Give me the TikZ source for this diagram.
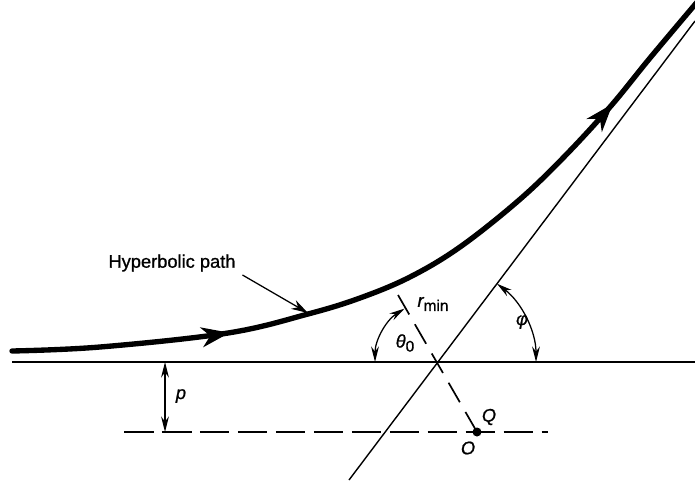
\documentclass[tikz,border=0pt]{standalone}
\usepackage{fontspec}
\setsansfont{Liberation Sans}[FakeBold=0.9]
\usetikzlibrary{arrows.meta,decorations.markings}

\newcommand{\lowtext}[1]{{\fontsize{11}{13}\selectfont\upshape\raisebox{-0.5ex}{#1}}}

\begin{document}
\begin{tikzpicture}[x=0.025cm,y=0.025cm,
  every node/.style={font=\sffamily\fontsize{13}{15}\selectfont},
  hyppath/.style={line width=3.8pt,line cap=round,postaction={decorate},
    decoration={markings,
      mark=at position 0.27 with {\arrow{Stealth[length=20pt,width=14pt,inset=6pt]}},
      mark=at position 0.835 with {\arrow{Stealth[length=20pt,width=14pt,inset=6pt]}}}},
  thinline/.style={line width=1pt},
  dashline/.style={line width=1.2pt,dash pattern=on 21pt off 6pt},
  apseline/.style={line width=1.2pt,dash pattern=on 16pt off 8pt},
  anglearrow/.style={{Stealth[length=11pt,width=5.5pt]}-{Stealth[length=11pt,width=5.5pt]},line width=0.9pt},
  labelarrow/.style={-{Stealth[length=12pt,width=7pt]},line width=0.9pt},
]
\useasboundingbox (0,0) rectangle (695,483);

% ---------- Reference points ----------
\coordinate (C) at (438,121);
\coordinate (O) at (477,51);
\coordinate (axL) at (12,121);
\coordinate (axR) at (695,121);
\coordinate (lowL) at (124,51);
\coordinate (lowR) at (548,51);
\coordinate (asyL) at (349,3);
\coordinate (asyR) at (695,462);
\coordinate (rtop) at (398,188);
\coordinate (pTop) at (165,121);
\coordinate (pBot) at (165,51);
\coordinate (hp) at (308,170);

% ---------- Lines ----------
\draw[thinline] (axL) -- (axR);
\draw[dashline] (lowL) -- (lowR);
\draw[thinline] (asyL) -- (asyR);
\draw[apseline] (rtop) -- (O);
\fill (O) circle (4.5);

% ---------- Hyperbolic path ----------
\draw[hyppath] plot[smooth,tension=0.6] coordinates {(12,132) (100,136) (228,150) (308,169)
  (360,185) (410,206) (460,236) (518,282) (563,325) (610,376) (650,425) (698,482)};

% ---------- Angles and distance ----------
\draw[anglearrow] ([shift={(0:98)}]C) arc[start angle=0,end angle=53,radius=98];
\node (phi) at (522,161) {\itshape φ};

\draw[anglearrow] ([shift={(180:63)}]C) arc[start angle=180,end angle=122,radius=63];
\node (theta) at (405,140) {\itshape θ\lowtext{0}};

\node (rmin) at (433,179) {\itshape r\lowtext{min}};

\draw[anglearrow] (pTop) -- (pBot);
\node (pl) at (181,87) {\itshape p};

\node (ql) at (489,66) {\itshape Q};
\node (ol) at (468,35) {\itshape O};

% ---------- Path label ----------
\node (hyplabel) at (172,220) {Hyperbolic path};
\draw[labelarrow] ([shift={(2,-12)}]hyplabel.east) -- (hp);

\end{tikzpicture}
\end{document}
